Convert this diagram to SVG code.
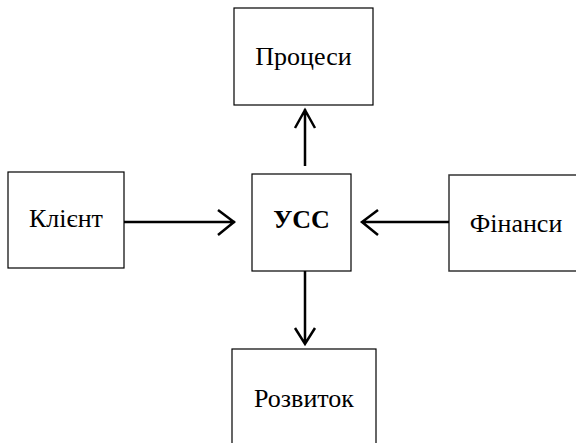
<svg xmlns="http://www.w3.org/2000/svg" width="576" height="443" viewBox="0 0 576 443">
<style>
.box{fill:#fff;stroke:#000;stroke-width:1.2}
.t{font-family:"Liberation Serif","Times New Roman",serif;font-size:26px;fill:#000;text-anchor:middle}
.b{font-weight:bold}
.c{stroke:#000;stroke-width:2.5;fill:none}
</style>
<rect width="576" height="443" fill="#fff"/>
<g id="protsesy"><rect class="box" x="234" y="8" width="139" height="97"/><text class="t" x="303.5" y="65">Процеси</text></g>
<g id="klient"><rect class="box" x="8" y="172" width="116" height="96"/><text class="t" x="66" y="227">Клієнт</text></g>
<g id="uss"><rect class="box" x="252" y="174" width="99" height="97"/><text class="t b" x="301.5" y="228">УСС</text></g>
<g id="finansy"><rect class="box" x="449" y="175" width="140" height="96" style="stroke:#333;stroke-width:1.5"/><text class="t" x="516" y="232">Фінанси</text></g>
<g id="rozvytok"><rect class="box" x="232" y="349" width="144" height="110"/><text class="t" x="304" y="407">Розвиток</text></g>
<g id="connectors">
<path class="c" d="M305 166 V109 M295 128 L305 110 L315 128"/>
<path class="c" d="M124 222 H235 M218 210 L234 222 L218 235"/>
<path class="c" d="M449 222 H362 M378 210 L362 222 L378 235"/>
<path class="c" d="M305 271 V344 M295 328 L305 344 L315 328"/>
</g>
</svg>
